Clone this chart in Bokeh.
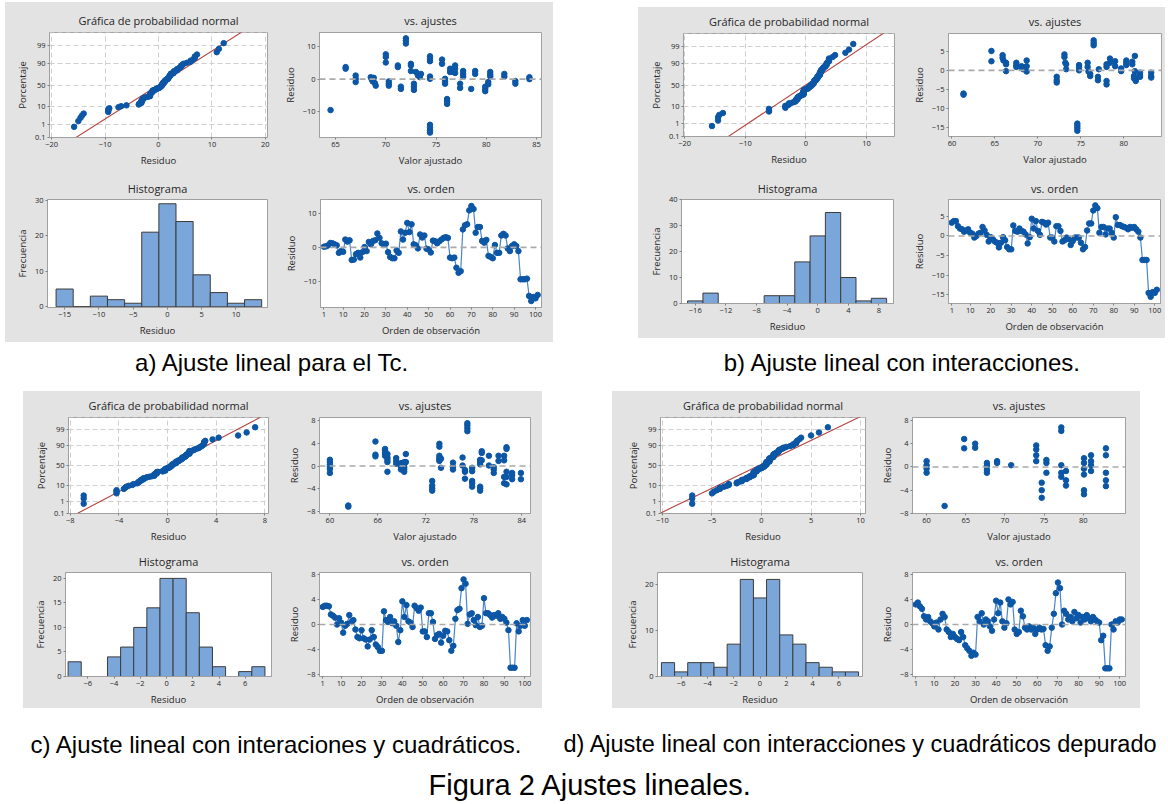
from statistics import NormalDist
from bokeh.plotting import figure
from bokeh.layouts import column, row
from bokeh.models import Spacer, FixedTicker, Span, CustomJSTickFormatter, Range1d
from bokeh.core.properties import value
from bokeh.embed import file_html
from bokeh.resources import INLINE

# ---------------- data ----------------
npp_pct = [0.1, 1, 10, 50, 90, 99, 99.9]
npp_lbl = ["0.1", "1", "10", "50", "90", "99", "99.9"]
order_ticks = [1, 10, 20, 30, 40, 50, 60, 70, 80, 90, 100]

a_resid = [0.2, 0.3, 0.6, 1.3, 1.2, 0.9, 0.6, -1.6, -1.1, -1.3,
           2.3, 1.7, 2.1, -3.7, -3.6, -2.0, -1.6, -3.0, -1.4, 0.1,
           -1.1, 1.6, 0.9, 1.9, 2.1, 4.1, 2.8, 1.2, 0.7, 1.1,
           -1.4, -2.8, -3.2, -3.2, -0.9, -1.6, 4.7, 2.3, 4.3, 7.2,
           4.5, 6.8, 0.9, 0.6, -0.3, 3.8, 2.9, 3.5, -0.4, -0.6,
           -1.5, 2.0, 1.8, 1.2, 1.8, 2.3, 2.8, 3.0, 2.8, -3.0,
           -3.2, -3.0, -6.0, -7.5, -7.0, 5.3, 6.5, 6.8, 10.9, 12.2,
           11.3, 4.3, 6.0, 6.0, 1.9, 1.4, 2.2, -2.5, -2.8, -3.2,
           0.7, -1.6, -1.6, 3.5, 4.0, 3.5, -0.3, -1.1, 0.4, 0.9,
           0.4, -1.1, -9.4, -9.4, -9.4, -9.2, -14.3, -15.8, -14.6, -15.0,
           -14.0]
a_fit_x = [64.5, 66.0, 66.0, 67.0, 67.0, 67.0, 68.5, 68.6, 68.7, 68.8, 68.9, 69.0,
           70.0, 70.0, 70.0, 70.3, 70.3, 70.3, 71.2, 71.2, 71.5, 71.5, 72.0, 72.0, 72.0,
           72.5, 72.5, 72.5, 72.8, 72.8, 72.8, 73.0, 73.2, 73.4, 73.5,
           74.4, 74.4, 74.4, 74.4, 74.4, 74.4, 74.4, 74.4, 74.4, 75.6, 75.6,
           75.9, 75.9, 75.9, 76.1, 76.1, 76.1, 76.4, 76.4, 76.7, 76.7, 76.9, 76.9, 76.9,
           77.4, 77.4, 77.7, 77.7, 77.7, 78.5, 78.9, 78.9, 79.9, 79.9, 79.9,
           80.2, 80.2, 80.4, 80.4, 80.4, 81.8, 81.8, 82.9, 82.9, 84.3, 84.3]
a_fit_y = [-9.5, 3.7, 3.2, 1.1, 0.1, -0.9, 0.6, -0.1, -0.7, 0.4, -1.2, -2.0,
           7.6, 6.8, 5.1, -0.7, -1.4, -2.0, 4.2, 3.7, -2.3, -3.0, 12.5, 11.8, 10.9,
           4.7, 4.2, 2.5, -1.4, -2.3, -3.3, 2.2, 1.1, 0.6, 1.6,
           7.0, 6.2, 5.5, 0.8, 0.1, -14.0, -14.8, -15.7, -16.4, 6.0, 4.7,
           0.1, -0.7, -1.4, -6.1, -6.8, -7.6, 3.2, 2.2, 3.2, 2.2, 4.2, 3.2, 1.9,
           -1.4, -2.7, 2.5, 1.6, 0.8, -3.0, 2.5, 1.6, -2.3, -3.0, -3.7,
           -0.9, -1.6, 2.2, 1.4, 0.8, 1.6, 0.8, -0.6, -1.4, 0.6, 0.0]
a_hist_start, a_hist_w = -16.25, 2.5
a_hist_counts = [5, 0, 3, 2, 1, 21, 29, 24, 9, 4, 1, 2]
a_line_mu, a_line_sd = 0.0, 5.0

b_resid = [3.4, 3.8, 3.8, 2.5, 1.9, 1.7, 1.1, 1.4, 1.7, 0.8,
           0.6, -0.4, 0.0, 0.6, 0.8, 2.3, 1.4, 0.3, -1.4, -0.3,
           -0.8, -1.4, -1.7, -2.9, -1.7, -0.3, -1.1, -2.8, -3.4, -3.4,
           2.7, 1.3, 1.1, 1.9, 1.3, 1.1, 0.4, -1.9, -0.3, 4.4,
           1.9, 3.8, 1.3, 0.3, 3.6, 3.4, 2.9, 3.4, -0.4, -0.4,
           -1.4, 2.5, 2.5, 1.3, -1.4, -1.1, -0.4, -0.8, -2.3, -1.3,
           -0.4, -0.4, -0.4, -1.7, -3.4, -2.8, 1.4, 3.2, 3.2, 6.5,
           7.8, 7.1, 0.8, 2.3, 2.3, 0.4, 1.9, 1.9, 0.8, -0.4,
           4.8, 2.8, 2.8, 2.5, 2.3, 2.1, 1.7, 2.3, 2.1, 2.3,
           1.7, 1.1, -0.4, -6.1, -6.1, -6.1, -14.5, -15.5, -14.3, -14.5,
           -13.7]
b_fit_x = [61.35, 61.35, 64.6, 64.6, 65.9, 65.9, 66.0, 66.3, 66.3, 66.3,
           67.5, 67.5, 67.5, 68.1, 68.1, 68.3, 68.7, 68.7, 68.7,
           72.2, 72.2, 72.2, 73.1, 73.1, 73.2, 73.3, 73.3,
           74.8, 74.8, 74.8, 74.6, 74.6, 74.6, 74.6,
           75.8, 75.8, 75.9, 76.1, 76.1, 76.5, 76.5, 76.5,
           77.0, 77.0, 77.1, 78.0, 78.0, 78.0, 78.0, 78.4, 78.4,
           79.0, 79.0, 79.7, 79.7, 80.3, 80.3, 80.3,
           81.0, 81.0, 81.2, 81.2, 81.3, 81.3, 81.4, 81.4,
           81.9, 81.9, 81.9, 83.2, 83.2, 83.2]
b_fit_y = [-6.1, -6.4, 5.1, 2.4, 4.0, 3.3, 2.6, 2.0, 1.6, -0.2,
           2.0, 1.3, 0.9, 1.1, 0.7, 0.3, 2.6, 1.1, -0.3,
           -1.7, -2.6, -3.2, 4.2, 3.5, 2.0, 1.6, 0.3,
           1.4, 0.7, 0.0, -14.0, -14.6, -15.2, -15.9,
           2.0, 0.9, -0.3, -0.9, -1.5, 7.9, 7.2, 6.6,
           -1.7, -2.6, 0.3, 1.6, 0.9, -2.8, -3.7, 3.1, 2.0,
           2.4, 1.1, 0.5, -0.2, 2.6, 2.0, 1.4,
           2.3, 1.6, -1.5, -2.1, 3.8, -0.2, -2.4, -2.8,
           -0.6, -1.2, -1.7, -0.6, -1.5, -1.9]
b_hist_start, b_hist_w = -17.0, 2.0
b_hist_counts = [1, 4, 0, 0, 0, 3, 3, 16, 26, 35, 10, 1, 2]
b_line_mu, b_line_sd = -0.05, 4.13

c_resid = [2.8, 3.0, 3.0, 2.9, 1.6, 1.4, 1.1, 0.0, 1.0, 0.3,
           -1.3, -0.2, 0.1, 1.5, 0.4, 0.7, -0.8, -2.0, -2.2, -0.9,
           -2.2, -2.4, -3.5, -2.4, -0.9, -2.0, -3.2, -3.6, -4.2, -4.2,
           2.1, 0.7, 0.4, 1.2, 0.2, 0.5, -0.2, -2.8, -0.9, 3.7,
           1.2, 3.1, 0.5, 0.3, -0.4, 3.0, 2.6, 2.2, 2.7, -1.1,
           -1.1, -2.0, 1.8, 1.8, 0.4, -2.3, -1.7, -1.5, -2.9, -1.8,
           -1.0, -1.1, -2.5, -4.2, -3.4, 0.9, 2.3, 2.5, 5.8, 7.2,
           6.5, 0.1, 1.6, 1.8, 0.7, -0.1, 1.2, -0.4, -0.2, 4.2,
           1.8, 1.8, 1.5, 1.1, 1.5, 1.4, 1.8, 0.9, 1.2, 0.9,
           0.3, -0.9, -6.9, -6.9, -6.9, 0.2, -1.1, -0.2, 0.7, -0.2,
           0.7]
c_fit_x = [60.0, 60.0, 60.0, 60.0, 60.0, 60.0, 62.3, 62.3, 65.7, 65.7, 65.7,
           66.9, 66.9, 66.9, 66.9, 67.2, 67.2, 67.2, 67.2, 67.2, 68.3, 68.3, 68.3,
           68.9, 68.9, 68.9, 68.9, 69.3, 69.3, 69.3, 69.3, 69.3, 69.5, 69.5,
           72.8, 72.8, 72.8, 72.8, 73.7, 73.7, 73.7, 73.7, 73.7, 73.7, 73.9, 73.9,
           75.4, 75.4, 75.4, 76.6, 76.6, 76.9, 76.9, 76.9, 77.2, 77.2, 77.2, 77.2,
           77.8, 77.8, 77.8, 77.8, 77.8, 78.8, 78.8, 78.8, 78.8, 78.8, 78.8,
           79.0, 79.0, 79.0, 79.9, 79.9, 80.5, 80.5, 80.5, 81.1, 81.1,
           81.8, 81.8, 81.8, 81.8, 82.1, 82.1, 82.1, 82.1, 82.1,
           82.8, 82.8, 82.8, 83.9, 83.9]
c_fit_y = [1.1, 0.7, 0.3, -0.1, -0.5, -1.2, -6.9, -7.1, 4.3, 2.0, 1.7,
           3.0, 2.7, 2.3, 1.8, 2.1, 1.5, 1.1, 0.7, -1.0, 1.4, 0.9, 0.4,
           0.5, 0.1, -0.3, -0.6, 0.7, 0.3, -0.2, -0.6, -1.0, 2.1, 0.7,
           -2.6, -3.4, -3.9, -4.3, 3.9, 3.4, 1.8, 1.4, 1.1, 0.9, 1.3, -0.3,
           0.6, -0.1, -0.6, 1.5, 0.1, -0.7, -1.0, -2.2, 7.5, 7.1, 6.6, 6.1,
           -0.3, -0.9, -2.6, -3.0, -3.6, 1.1, 0.7, 0.3, -3.6, -3.9, -4.3,
           2.6, 2.3, 1.0, 1.8, 0.1, -0.2, -0.6, -1.2, 1.8, 0.9,
           1.8, 1.0, -1.9, -3.0, 3.3, 3.0, -1.0, -1.9, -3.2,
           -1.2, -1.6, -2.3, -1.2, -2.3]
c_hist_start, c_hist_w = -7.5, 1.0
c_hist_counts = [3, 0, 0, 4, 6, 10, 14, 20, 20, 13, 6, 2, 0, 1, 2]
c_line_mu, c_line_sd = 0.08, 2.43

d_resid = [3.2, 3.5, 2.9, 2.5, 1.3, 0.8, 1.2, 0.5, 0.2, -0.3,
           0.3, -0.8, 0.8, 1.7, 1.2, -0.8, -1.2, -2.0, -1.5, -2.0,
           -2.3, -2.5, -1.2, -2.0, -3.3, -3.8, -4.2, -5.0, -4.5, -4.8,
           1.2, 0.5, 1.8, 0.0, 0.8, 0.5, -0.3, -1.0, 0.8, 3.8,
           1.8, 3.5, 0.5, -0.5, 0.2, 4.0, 3.2, 3.6, -0.8, -1.5,
           -1.2, 2.2, 1.3, -0.5, -0.8, -0.3, -0.8, -0.5, -1.5, -0.8,
           -0.5, -0.8, -0.7, -3.3, -4.2, -3.5, -0.5, 1.7, 5.0, 6.7,
           5.8, 0.0, 2.2, 1.7, 0.8, 1.2, 0.5, 2.0, 1.0, 1.5,
           0.3, 1.2, 0.8, 1.5, 1.0, 0.5, 1.2, 0.8, 0.5, 0.3,
           -2.5, -1.8, -7.0, -7.0, -7.0, 0.0, -0.8, 0.5, 0.3, 0.8,
           0.8]
d_fit_x = [60.0, 60.0, 60.0, 60.0, 62.3, 64.8, 64.8, 66.2, 66.2,
           67.7, 67.7, 67.7, 67.7, 69.0, 69.0, 70.8,
           74.0, 74.0, 74.0, 74.0, 74.7, 74.7, 74.7, 75.3, 75.3, 75.3,
           77.2, 77.2, 77.2, 77.2, 77.2, 77.8, 77.8, 77.8,
           80.1, 80.1, 80.1, 80.1, 80.1, 80.1, 81.0, 81.0, 81.0, 81.0,
           82.9, 82.9, 82.9, 82.9, 82.9]
d_fit_y = [1.0, 0.3, -0.3, -1.0, -6.7, 4.8, 3.2, 4.0, 3.3,
           0.7, 0.2, -0.5, -1.0, 1.0, 0.7, 0.3,
           3.7, 3.0, 2.0, 1.0, -2.7, -4.0, -5.3, 1.2, 0.7, -1.0,
           6.8, 6.2, 0.3, -1.0, -1.7, -0.7, -2.3, -3.2,
           1.5, 0.7, -0.3, -1.3, -4.0, -4.7, 2.0, 1.0, 0.3, -0.7,
           3.2, 2.0, -1.0, -2.3, -3.3]
d_hist_start, d_hist_w = -7.5, 1.0
d_hist_counts = [3, 1, 3, 3, 2, 7, 21, 17, 21, 9, 7, 3, 2, 1, 1]
d_line_mu, d_line_sd = -0.25, 3.25

captions = ["a) Ajuste lineal para el Tc.",
            "b) Ajuste lineal con interacciones.",
            "c) Ajuste lineal con interaciones y cuadráticos.",
            "d) Ajuste lineal con  interacciones y cuadráticos depurado",
            "Figura 2 Ajustes lineales."]

# ---------------- style ----------------
ND = NormalDist()
FONT = "Open Sans"
CAPFONT = "Liberation Sans"
BG = "#e3e3e3"
FRAME = "#a0a0a0"
TXT = "#262626"
DOT = "#0c56a6"
LINEC = "#4a84c9"
BAR = "#7ba6d9"
REDL = "#b5433d"

npp_z = [ND.inv_cdf(p / 100.0) for p in npp_pct]
NPP_YR = (ND.inv_cdf(0.001), ND.inv_cdf(0.999))
TOP_SO, BOT_SO = 9, 7


def mk(w, h, bl, br, bt, bb, xr, yr, title, xlabel, ylabel, xticks, yticks, standoff):
    p = figure(width=w, height=h, x_range=Range1d(*xr), y_range=Range1d(*yr),
               output_backend="svg", toolbar_location=None, tools="",
               min_border_left=bl, min_border_right=br,
               min_border_top=bt, min_border_bottom=bb)
    p.title.text = title
    p.title.align = "center"
    p.title.text_font = FONT
    p.title.text_font_size = "11px"
    p.title.text_font_style = "normal"
    p.title.text_color = TXT
    p.title.standoff = standoff
    p.border_fill_color = BG
    p.background_fill_color = "white"
    p.outline_line_color = FRAME
    p.xaxis.axis_label = xlabel
    p.yaxis.axis_label = ylabel
    p.xaxis.ticker = FixedTicker(ticks=xticks)
    p.yaxis.ticker = FixedTicker(ticks=yticks)
    for ax in (p.xaxis[0], p.yaxis[0]):
        ax.axis_line_color = FRAME
        ax.major_tick_line_color = "#808080"
        ax.major_tick_out = 2
        ax.major_tick_in = 0
        ax.minor_tick_line_color = None
        ax.major_label_text_font = FONT
        ax.major_label_text_font_size = "7.5px"
        ax.major_label_text_color = TXT
        ax.major_label_standoff = 2
        ax.axis_label_text_font = FONT
        ax.axis_label_text_font_size = "9.5px"
        ax.axis_label_text_font_style = "normal"
        ax.axis_label_text_color = TXT
        ax.axis_label_standoff = 4
    p.yaxis[0].axis_label_standoff = 3
    p.xgrid.visible = False
    p.ygrid.visible = False
    return p


def npp(geom, xr, xticks, resid, mu, sd):
    p = mk(*geom, xr, NPP_YR, "Gráfica de probabilidad normal", "Residuo", "Porcentaje", xticks, npp_z, TOP_SO)
    p.yaxis[0].formatter = CustomJSTickFormatter(args=dict(locs=npp_z, labs=npp_lbl), code="""
        let best = 0, d = 1e9;
        for (let i = 0; i < locs.length; i++) { const e = Math.abs(locs[i] - tick); if (e < d) { d = e; best = i; } }
        return labs[best];
    """)
    for g in (p.xgrid[0], p.ygrid[0]):
        g.visible = True
        g.grid_line_color = "#cfcfcf"
        g.grid_line_dash = "5 3"
    s = sorted(resid)
    n = len(s)
    z = [ND.inv_cdf((i + 1 - 0.3) / (n + 0.4)) for i in range(n)]
    zl = [-3.3, 3.3]
    p.line([mu + sd * v for v in zl], zl, line_color=REDL, line_width=1.1)
    p.scatter(s, z, size=5.5, fill_color=DOT, line_color=DOT)
    return p


def zero_line(p):
    p.add_layout(Span(location=0, dimension="width", line_color="#a9a9a9",
                      line_dash="6 4", line_width=1.6))


def fits(geom, xr, yr, xticks, yticks, fx, fy):
    p = mk(*geom, xr, yr, "vs. ajustes", "Valor ajustado", "Residuo", xticks, yticks, TOP_SO)
    zero_line(p)
    p.scatter(fx, fy, size=5.5, fill_color=DOT, line_color=DOT)
    return p


def hist(geom, xr, yr, xticks, yticks, start, bw, counts):
    p = mk(*geom, xr, yr, "Histograma", "Residuo", "Frecuencia", xticks, yticks, BOT_SO)
    left = [start + i * bw for i in range(len(counts))]
    right = [l + bw for l in left]
    p.quad(left=left, right=right, top=counts, bottom=0, fill_color=BAR,
           line_color="#3c3c3c", line_width=1)
    return p


def order(geom, yr, yticks, resid):
    p = mk(*geom, (-0.6, 102.8), yr, "vs. orden", "Orden de observación", "Residuo", order_ticks, yticks, BOT_SO)
    zero_line(p)
    k = list(range(1, len(resid) + 1))
    p.line(k, resid, line_color=LINEC, line_width=1.2)
    p.scatter(k, resid, size=5.5, fill_color=DOT, line_color=DOT)
    return p


def strip(w, h):
    p = figure(width=w, height=h, x_range=Range1d(0, w), y_range=Range1d(h, 0),
               output_backend="svg", toolbar_location=None, tools="", min_border=0)
    p.xaxis.visible = False
    p.yaxis.visible = False
    p.xgrid.visible = False
    p.ygrid.visible = False
    p.outline_line_color = None
    p.background_fill_color = "white"
    p.border_fill_color = "white"
    return p


def put(p, x, y, txt, size, align):
    p.text(x=[x], y=[y], text=[txt], text_font=value(CAPFONT), text_font_size=size,
           text_align=align, text_baseline="alphabetic", text_color="#000000")


def panel(*items):
    return column(*items, styles={"background-color": BG})


# ---------------- panel a ----------------
pa1 = npp((274, 170, 44, 12, 30, 35), (-20.4, 20.4), [-20, -10, 0, 10, 20], a_resid, a_line_mu, a_line_sd)
pa2 = fits((274, 170, 40, 12, 30, 35), (63.4, 85.5), (-17.9, 14.3), [65, 70, 75, 80, 85], [-10, 0, 10], a_fit_x, a_fit_y)
pa3 = hist((274, 170, 42, 12, 27, 35), (-17.5, 14.6), (-0.2, 30.2), [-15, -10, -5, 0, 5, 10], [0, 10, 20, 30],
           a_hist_start, a_hist_w, a_hist_counts)
pa4 = order((274, 170, 41, 12, 27, 35), (-17.7, 14.1), [-10, 0, 10], a_resid)
panel_a = column(Spacer(width=548, height=2), panel(row(pa1, pa2), row(pa3, pa4)))

# ---------------- panel b ----------------
pb1 = npp((271, 163, 45, 15, 25, 34), (-20.2, 14.6), [-20, -10, 0, 10], b_resid, b_line_mu, b_line_sd)
pb2 = fits((256, 163, 37, 4, 25, 34), (59.6, 84.4), (-17.4, 9.7), [60, 65, 70, 75, 80], [-15, -10, -5, 0, 5], b_fit_x, b_fit_y)
pb3 = hist((271, 168, 43, 16, 29, 35), (-17.8, 9.9), (0, 40), [-16, -12, -8, -4, 0, 4, 8], [0, 10, 20, 30, 40],
           b_hist_start, b_hist_w, b_hist_counts)
pb4 = order((256, 168, 37, 5, 29, 35), (-17.2, 9.3), [-15, -10, -5, 0, 5], b_resid)
panel_b = column(Spacer(width=527, height=7), panel(row(pb1, pb2), row(pb3, pb4)))

# ---------------- panel c ----------------
pc1 = npp((260, 157, 45, 15, 24, 35), (-8.15, 8.3), [-8, -4, 0, 4, 8], c_resid, c_line_mu, c_line_sd)
pc2 = fits((259, 157, 36, 12, 24, 35), (58.7, 85.1), (-8.3, 8.5), [60, 66, 72, 78, 84], [-8, -4, 0, 4, 8], c_fit_x, c_fit_y)
pc3 = hist((260, 160, 42, 12, 24, 32), (-7.7, 8.0), (0, 21.2), [-6, -4, -2, 0, 2, 4, 6], [0, 5, 10, 15, 20],
           c_hist_start, c_hist_w, c_hist_counts)
pc4 = order((259, 160, 36, 12, 24, 32), (-8.3, 8.3), [-8, -4, 0, 4, 8], c_resid)
panel_c = panel(row(pc1, pc2), row(pc3, pc4))

# ---------------- panel d ----------------
pd1 = npp((264, 157, 48, 11, 24, 35), (-10.2, 10.5), [-10, -5, 0, 5, 10], d_resid, d_line_mu, d_line_sd)
pd2 = fits((264, 157, 36, 15, 24, 35), (58.2, 85.4), (-8.0, 8.5), [60, 65, 70, 75, 80], [-8, -4, 0, 4, 8], d_fit_x, d_fit_y)
pd3 = hist((264, 160, 45, 14, 24, 32), (-7.8, 7.8), (0, 22.5), [-6, -4, -2, 0, 2, 4, 6], [0, 10, 20],
           d_hist_start, d_hist_w, d_hist_counts)
pd4 = order((264, 160, 36, 15, 24, 32), (-8.3, 8.3), [-8, -4, 0, 4, 8], d_resid)
panel_d = panel(row(pd1, pd2), row(pd3, pd4))

# ---------------- captions ----------------
cap1 = strip(1168, 49)
put(cap1, 272, 19.5, captions[0], "24px", "center")
put(cap1, 902, 19.5, captions[1], "24px", "center")

cap2 = strip(1168, 94)
put(cap2, 30, 35.5, captions[2], "24px", "left")
put(cap2, 563, 35.5, captions[3], "23.5px", "left")
put(cap2, 590, 76.5, captions[4], "29px", "center")

row1 = row(Spacer(width=5, height=10), panel_a, Spacer(width=85, height=10), panel_b)
row3 = row(Spacer(width=23, height=10), panel_c, Spacer(width=70, height=10), panel_d)

layout = column(row1, cap1, row3, cap2)

open("out.html", "w").write(file_html(layout, INLINE))
